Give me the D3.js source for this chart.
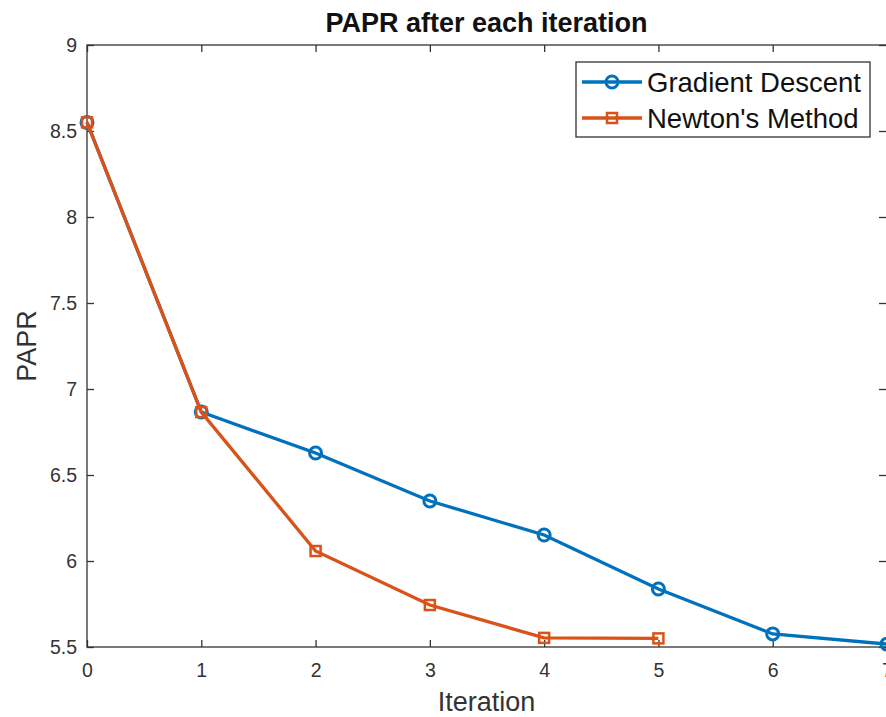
<!DOCTYPE html>
<html>
<head>
<meta charset="utf-8">
<script src="https://cdn.jsdelivr.net/npm/d3@7"></script>
<style>
  body { margin: 0; background: #fff; }
  svg { font-family: "Liberation Sans", Arial, sans-serif; }
</style>
</head>
<body>
<svg width="886" height="717"></svg>
<script>
// data
const iterations = [0, 1, 2, 3, 4, 5, 6, 7];
const gradientDescent = [8.55, 6.866, 6.628, 6.349, 6.151, 5.837, 5.576, 5.517];
const newtonIterations = [0, 1, 2, 3, 4, 5];
const newtonMethod = [8.55, 6.866, 6.058, 5.744, 5.553, 5.550];
const xTicks = [0, 1, 2, 3, 4, 5, 6, 7];
const yTicks = [5.5, 6, 6.5, 7, 7.5, 8, 8.5, 9];
const seriesNames = ['Gradient Descent', "Newton's Method"];

function createChart() {
  const svg = d3.select('svg');
  const left = 87, right = 887, top = 45, bottom = 647;
  const axisColor = '#333';
  const blue = '#0072BD';
  const orange = '#D95319';

  const xScale = d3.scaleLinear().domain([0, 7]).range([left, right]);
  const yScale = d3.scaleLinear().domain([5.5, 9]).range([bottom, top]);

  // box
  svg.append('rect')
      .attr('x', left).attr('y', top)
      .attr('width', right - left).attr('height', bottom - top)
      .attr('fill', 'none').attr('stroke', axisColor).attr('stroke-width', 1.3);

  const xAxis = d3.axisBottom(xScale)
      .tickValues(xTicks)
      .tickSizeInner(-7).tickSizeOuter(0)
      .tickPadding(16)
      .tickFormat(d3.format('d'));
  svg.append('g')
      .attr('transform', `translate(0, ${bottom})`)
      .call(xAxis);

  const xTop = d3.axisTop(xScale)
      .tickValues(xTicks)
      .tickSizeInner(-7).tickSizeOuter(0)
      .tickFormat('');
  svg.append('g')
      .attr('transform', `translate(0, ${top})`)
      .call(xTop);

  const yAxis = d3.axisLeft(yScale)
      .tickValues(yTicks)
      .tickSizeInner(-7).tickSizeOuter(0)
      .tickPadding(10)
      .tickFormat(d3.format('~g'));
  svg.append('g')
      .attr('transform', `translate(${left}, 0)`)
      .call(yAxis);

  const yRight = d3.axisRight(yScale)
      .tickValues(yTicks)
      .tickSizeInner(-7).tickSizeOuter(0)
      .tickFormat('');
  svg.append('g')
      .attr('transform', `translate(${right - 1}, 0)`)
      .call(yRight);

  svg.selectAll('.domain').attr('stroke', 'none');
  svg.selectAll('.tick line').attr('stroke', axisColor).attr('stroke-width', 1.3);
  svg.selectAll('.tick text')
      .attr('fill', '#333')
      .style('font-size', '19.5px');

  const line = d3.line()
      .x(d => xScale(d[0]))
      .y(d => yScale(d[1]));

  // gradient descent
  const gdData = iterations.map((x, i) => [x, gradientDescent[i]]);
  svg.append('path')
      .attr('d', line(gdData))
      .attr('fill', 'none')
      .attr('stroke', blue)
      .attr('stroke-width', 3.3);
  svg.selectAll('.gdMarker')
      .data(gdData)
      .enter()
      .append('circle')
      .attr('class', 'gdMarker')
      .attr('cx', d => xScale(d[0]))
      .attr('cy', d => yScale(d[1]))
      .attr('r', 6)
      .attr('fill', 'none')
      .attr('stroke', blue)
      .attr('stroke-width', 3);

  // newton's method
  const nmData = newtonIterations.map((x, i) => [x, newtonMethod[i]]);
  svg.append('path')
      .attr('d', line(nmData))
      .attr('fill', 'none')
      .attr('stroke', orange)
      .attr('stroke-width', 3.3);
  svg.selectAll('.nmMarker')
      .data(nmData)
      .enter()
      .append('rect')
      .attr('class', 'nmMarker')
      .attr('x', d => xScale(d[0]) - 5)
      .attr('y', d => yScale(d[1]) - 5)
      .attr('width', 10)
      .attr('height', 10)
      .attr('fill', 'none')
      .attr('stroke', orange)
      .attr('stroke-width', 2.5);

  // title and axis labels
  svg.append('text')
      .attr('x', (left + 886) / 2)
      .attr('y', 32)
      .attr('text-anchor', 'middle')
      .style('font-size', '27px')
      .style('font-weight', 'bold')
      .attr('fill', '#111')
      .text('PAPR after each iteration');

  svg.append('text')
      .attr('x', (left + 886) / 2)
      .attr('y', 711)
      .attr('text-anchor', 'middle')
      .style('font-size', '27px')
      .attr('fill', '#333')
      .text('Iteration');

  svg.append('text')
      .attr('transform', 'translate(36, 346) rotate(-90)')
      .attr('text-anchor', 'middle')
      .style('font-size', '27px')
      .attr('fill', '#333')
      .text('PAPR');

  // legend
  const legend = svg.append('g');
  legend.append('rect')
      .attr('x', 576).attr('y', 62)
      .attr('width', 294).attr('height', 75)
      .attr('fill', '#fff')
      .attr('stroke', axisColor).attr('stroke-width', 1.3);

  const colors = [blue, orange];
  seriesNames.forEach((name, i) => {
    const cy = 82 + i * 36;
    legend.append('line')
        .attr('x1', 582).attr('x2', 642)
        .attr('y1', cy).attr('y2', cy)
        .attr('stroke', colors[i]).attr('stroke-width', 3.3);
    if (i === 0) {
      legend.append('circle')
          .attr('cx', 612).attr('cy', cy).attr('r', 6)
          .attr('fill', 'none').attr('stroke', blue).attr('stroke-width', 3);
    } else {
      legend.append('rect')
          .attr('x', 607).attr('y', cy - 5).attr('width', 10).attr('height', 10)
          .attr('fill', 'none').attr('stroke', orange).attr('stroke-width', 2.5);
    }
    legend.append('text')
        .attr('x', 647).attr('y', cy + 10)
        .style('font-size', '27.5px')
        .attr('fill', '#111')
        .text(name);
  });
}

createChart();
</script>
</body>
</html>
